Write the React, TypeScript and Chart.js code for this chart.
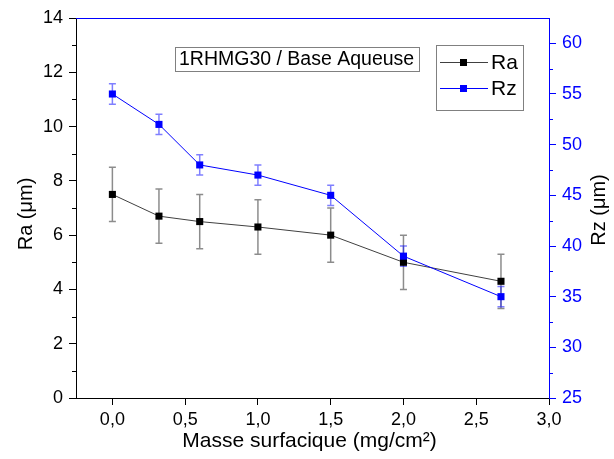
import React, { useEffect, useRef } from 'react';
import { Chart, registerables } from 'chart.js';

Chart.register(...registerables);

// ---- data ----
const masse = [0, 0.32, 0.6, 1.0, 1.5, 2.0, 2.67];
const raValues = [7.5, 6.7, 6.5, 6.3, 6.0, 5.0, 4.3];
const raErrors = [1, 1, 1, 1, 1, 1, 1];
const rzValues = [55, 52, 48, 47, 45, 39, 35];
const rzErrors = [1, 1, 1, 1, 1, 1, 1];

const xTicks = [0, 0.5, 1, 1.5, 2, 2.5, 3];
const raTicks = [0, 2, 4, 6, 8, 10, 12, 14];
const raMinorTicks = [1, 3, 5, 7, 9, 11, 13];
const rzTicks = [25, 30, 35, 40, 45, 50, 55, 60];
const rzMinorTicks = [27.5, 32.5, 37.5, 42.5, 47.5, 52.5, 57.5];

const annotationText = '1RHMG30 / Base Aqueuse';
const xTitle = 'Masse surfacique (mg/cm²)';
const raTitle = 'Ra (μm)';
const rzTitle = 'Rz (μm)';

const FONT = '"Liberation Sans", Arial, sans-serif';
const BLUE = '#0000ff';
const BLACK = '#000000';

const decorPlugin = {
  id: 'decor',
  beforeDatasetsDraw(chart: any) {
    const ctx = chart.ctx;
    const xs = chart.scales.x;
    chart.data.datasets.forEach((ds: any, i: number) => {
      const meta = chart.getDatasetMeta(i);
      const ys = chart.scales[meta.yAxisID];
      ctx.save();
      ctx.strokeStyle = ds.errorColor;
      ctx.lineWidth = 1.5;
      ds.data.forEach((v: number, j: number) => {
        const e = ds.errors[j];
        const x = xs.getPixelForValue(masse[j]);
        const yt = ys.getPixelForValue(v + e);
        const yb = ys.getPixelForValue(v - e);
        ctx.beginPath();
        ctx.moveTo(x, yt);
        ctx.lineTo(x, yb);
        ctx.moveTo(x - 3.5, yt);
        ctx.lineTo(x + 3.5, yt);
        ctx.moveTo(x - 3.5, yb);
        ctx.lineTo(x + 3.5, yb);
        ctx.stroke();
      });
      ctx.restore();
    });
  },
  afterDraw(chart: any) {
    const ctx = chart.ctx;
    const area = chart.chartArea;
    const yl = chart.scales.y;
    const yr = chart.scales.y1;
    ctx.save();
    // top border (blue)
    ctx.strokeStyle = BLUE;
    ctx.lineWidth = 1;
    ctx.beginPath();
    ctx.moveTo(area.left, Math.round(area.top) + 0.5);
    ctx.lineTo(area.right, Math.round(area.top) + 0.5);
    ctx.stroke();
    // minor ticks
    ctx.strokeStyle = BLACK;
    ctx.beginPath();
    raMinorTicks.forEach((v) => {
      const y = Math.round(yl.getPixelForValue(v)) + 0.5;
      ctx.moveTo(area.left, y);
      ctx.lineTo(area.left - 4, y);
    });
    ctx.stroke();
    ctx.strokeStyle = BLUE;
    ctx.beginPath();
    rzMinorTicks.forEach((v) => {
      const y = Math.round(yr.getPixelForValue(v)) + 0.5;
      ctx.moveTo(area.right, y);
      ctx.lineTo(area.right + 4, y);
    });
    ctx.stroke();

    // axis titles
    ctx.fillStyle = BLACK;
    ctx.font = `20px ${FONT}`;
    ctx.textAlign = 'center';
    ctx.textBaseline = 'middle';
    ctx.save();
    ctx.translate(26, (area.top + area.bottom) / 2 + 6);
    ctx.rotate(-Math.PI / 2);
    ctx.fillText(raTitle, 0, 0);
    ctx.restore();
    ctx.save();
    ctx.translate(599, (area.top + area.bottom) / 2 + 2);
    ctx.rotate(-Math.PI / 2);
    ctx.fillText(rzTitle, 0, 0);
    ctx.restore();
    ctx.font = `21px ${FONT}`;
    ctx.fillText(xTitle, (area.left + area.right) / 2 - 3, 441);

    // annotation box
    ctx.strokeStyle = '#808080';
    ctx.lineWidth = 1;
    ctx.strokeRect(175.5, 47.5, 244, 24);
    ctx.textAlign = 'left';
    ctx.font = `19.5px ${FONT}`;
    ctx.fillStyle = BLACK;
    ctx.fillText(annotationText, 179, 60);

    // legend
    ctx.strokeRect(436.5, 45.5, 87, 65);
    const rows = [
      { label: chart.data.datasets[0].label, color: chart.data.datasets[0].legendColor, y: 62 },
      { label: chart.data.datasets[1].label, color: chart.data.datasets[1].legendColor, y: 88 },
    ];
    rows.forEach((r) => {
      ctx.strokeStyle = r.color;
      ctx.lineWidth = 1;
      ctx.beginPath();
      ctx.moveTo(440, r.y + 0.5);
      ctx.lineTo(488, r.y + 0.5);
      ctx.stroke();
      ctx.fillStyle = r.color === BLUE ? BLUE : BLACK;
      ctx.fillRect(460, r.y - 3, 7, 7);
      ctx.fillStyle = BLACK;
      ctx.font = `21px ${FONT}`;
      ctx.fillText(r.label, 491, r.y + 1);
    });
    ctx.restore();
  },
};

export default function App() {
  const ref = useRef<HTMLCanvasElement>(null);
  useEffect(() => {
    if (!ref.current) return;
    const chart = new Chart(ref.current, {
      type: 'line',
      data: {
        datasets: [
          {
            label: 'Ra',
            data: raValues as any,
            errors: raErrors,
            errorColor: 'rgba(0,0,0,0.45)',
            legendColor: '#404040',
            yAxisID: 'y',
            borderColor: '#404040',
            backgroundColor: BLACK,
            pointBackgroundColor: BLACK,
            pointBorderColor: BLACK,
            pointStyle: 'rect',
            pointRadius: 5,
            borderWidth: 1,
            pointBorderWidth: 0,
            order: 2,
          } as any,
          {
            label: 'Rz',
            data: rzValues as any,
            errors: rzErrors,
            errorColor: 'rgba(0,0,255,0.5)',
            legendColor: BLUE,
            yAxisID: 'y1',
            borderColor: BLUE,
            backgroundColor: BLUE,
            pointBackgroundColor: BLUE,
            pointBorderColor: BLUE,
            pointStyle: 'rect',
            pointRadius: 5,
            borderWidth: 1,
            pointBorderWidth: 0,
            order: 1,
          } as any,
        ],
        labels: masse as any,
      },
      options: {
        responsive: false,
        animation: false,
        layout: { padding: { top: 18, left: 0, right: 0, bottom: 0 } },
        plugins: { legend: { display: false }, tooltip: { enabled: false } },
        scales: {
          x: {
            type: 'linear',
            position: 'bottom',
            min: -0.25,
            max: 3.0,
            afterBuildTicks: (s: any) => {
              s.ticks = xTicks.map((v) => ({ value: v }));
            },
            afterFit: (s: any) => {
              s.height = 61;
            },
            ticks: {
              color: BLACK,
              font: { family: FONT, size: 18 },
              padding: 4,
              maxRotation: 0,
              callback: (v: any) => Number(v).toFixed(1).replace('.', ','),
            },
            grid: { drawOnChartArea: false, tickLength: 7, tickColor: BLACK, tickWidth: 1 },
            border: { display: true, color: BLACK, width: 1 },
          },
          y: {
            type: 'linear',
            position: 'left',
            min: 0,
            max: 14,
            afterBuildTicks: (s: any) => {
              s.ticks = raTicks.map((v) => ({ value: v }));
            },
            afterFit: (s: any) => {
              s.width = 76;
            },
            ticks: { color: BLACK, font: { family: FONT, size: 18 }, padding: 6 },
            grid: { drawOnChartArea: false, tickLength: 7, tickColor: BLACK, tickWidth: 1 },
            border: { display: true, color: BLACK, width: 1 },
          },
          y1: {
            type: 'linear',
            position: 'right',
            min: 25,
            max: 62.5,
            afterBuildTicks: (s: any) => {
              s.ticks = rzTicks.map((v) => ({ value: v }));
            },
            afterFit: (s: any) => {
              s.width = 65;
            },
            ticks: { color: BLUE, font: { family: FONT, size: 18 }, padding: 6 },
            grid: { drawOnChartArea: false, tickLength: 7, tickColor: BLUE, tickWidth: 1 },
            border: { display: true, color: BLUE, width: 1 },
          },
        },
      } as any,
      plugins: [decorPlugin],
    });
    return () => chart.destroy();
  }, []);

  return (
    <div style={{ position: 'fixed', left: 0, top: 0, width: 614, height: 459, background: '#fff' }}>
      <canvas ref={ref} width={614} height={459} />
    </div>
  );
}
